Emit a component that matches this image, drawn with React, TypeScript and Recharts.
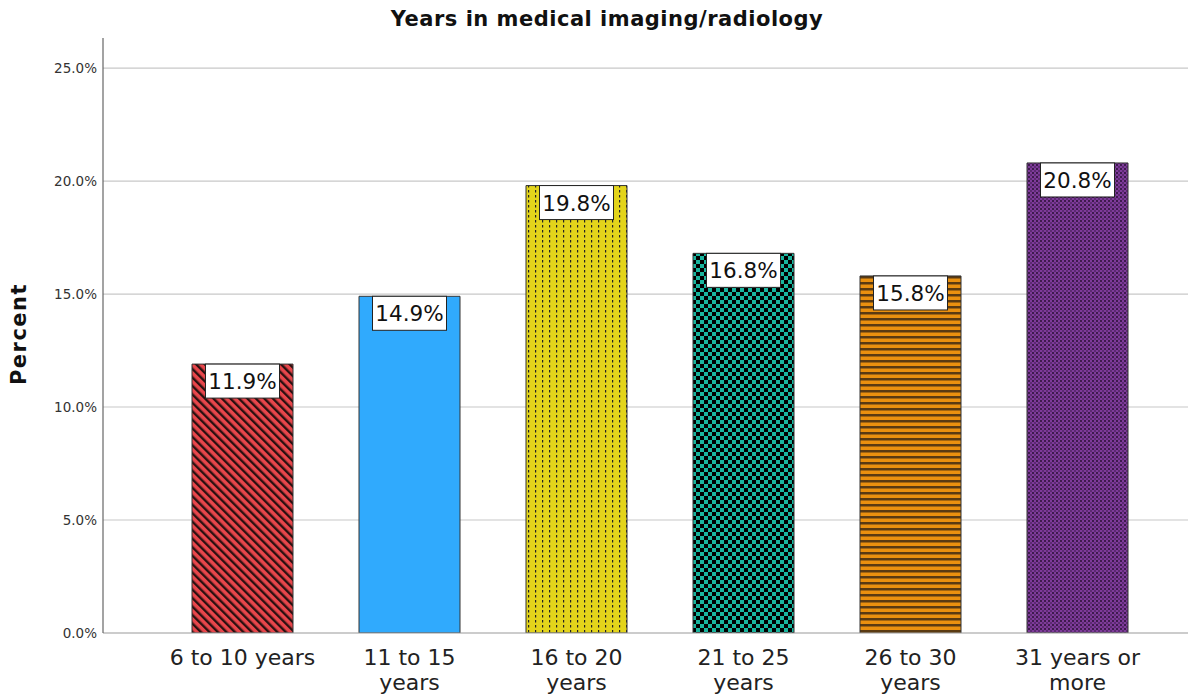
import React from "react";
import { BarChart, Bar, XAxis, YAxis, CartesianGrid, Cell, LabelList } from "recharts";

const categories = ["6 to 10 years", "11 to 15 years", "16 to 20 years", "21 to 25 years", "26 to 30 years", "31 years or more"];
const tickLines = [["6 to 10 years"], ["11 to 15", "years"], ["16 to 20", "years"], ["21 to 25", "years"], ["26 to 30", "years"], ["31 years or", "more"]];
const percents = [11.9, 14.9, 19.8, 16.8, 15.8, 20.8];
const yTicks = [0, 5, 10, 15, 20, 25];
const patternIds = ["pRed", "pBlue", "pYellow", "pTeal", "pOrange", "pPurple"];

const data = categories.map((c, i) => ({ name: c, value: percents[i] }));

const FONT = "'DejaVu Sans', sans-serif";

const XTick = (props: any) => {
  const { x, y, payload } = props;
  const idx = categories.indexOf(payload.value);
  const lines = idx >= 0 ? tickLines[idx] : [String(payload.value)];
  return (
    <g>
      {lines.map((l, k) => (
        <text key={k} x={x} y={y + 32 + k * 25} textAnchor="middle" fontSize={22} fill="#222" fontFamily={FONT}>
          {l}
        </text>
      ))}
    </g>
  );
};

const ValueLabel = (props: any) => {
  const { x, y, width, value } = props;
  const cx = x + width / 2;
  const w = 74;
  const h = 34;
  return (
    <g>
      <rect x={cx - w / 2} y={y} width={w} height={h} fill="#fff" stroke="#222" strokeWidth={1} />
      <text x={cx} y={y + h / 2 + 8} textAnchor="middle" fontSize={21.5} fill="#111" fontFamily={FONT}>
        {`${Number(value).toFixed(1)}%`}
      </text>
    </g>
  );
};

export default function App() {
  return (
    <div style={{ position: "absolute", left: 0, top: 0, width: 1188, height: 698, background: "#fff" }}>
      <div
        style={{
          position: "absolute",
          left: 0,
          top: 4,
          width: 1214,
          textAlign: "center",
          fontFamily: FONT,
          fontWeight: "bold",
          fontSize: 21,
          letterSpacing: 0.5,
          color: "#111",
          lineHeight: "30px",
        }}
      >
        Years in medical imaging/radiology
      </div>
      <div
        style={{
          position: "absolute",
          left: 19,
          top: 334,
          transform: "translate(-50%, -50%) rotate(-90deg)",
          fontFamily: FONT,
          fontWeight: "bold",
          fontSize: 21,
          letterSpacing: 1.5,
          color: "#111",
          whiteSpace: "nowrap",
        }}
      >
        Percent
      </div>
      <BarChart width={1188} height={698} data={data} margin={{ top: 38, right: 0, bottom: 5, left: 0 }}>
        <defs>
          <pattern id="pRed" width="6" height="6" patternUnits="userSpaceOnUse" patternTransform="rotate(-45)">
            <rect width="6" height="6" fill="#E8464B" />
            <rect x="0" y="0" width="2.4" height="6" fill="#2a1010" />
          </pattern>
          <pattern id="pBlue" width="6" height="6" patternUnits="userSpaceOnUse">
            <rect width="6" height="6" fill="#30AAFD" />
          </pattern>
          <pattern id="pYellow" width="7" height="5" patternUnits="userSpaceOnUse">
            <rect width="7" height="5" fill="#E3D41B" />
            <rect x="3" y="0" width="1.2" height="2.5" fill="#222" />
          </pattern>
          <pattern id="pTeal" width="8" height="8" patternUnits="userSpaceOnUse">
            <rect width="8" height="8" fill="#19B59E" />
            <rect x="0" y="0" width="4" height="4" fill="#000" />
            <rect x="4" y="4" width="4" height="4" fill="#000" />
          </pattern>
          <pattern id="pOrange" width="6" height="6" patternUnits="userSpaceOnUse">
            <rect width="6" height="6" fill="#EA900F" />
            <rect x="0" y="0" width="6" height="2.5" fill="#5a3a12" />
          </pattern>
          <pattern id="pPurple" width="4" height="4" patternUnits="userSpaceOnUse">
            <rect width="4" height="4" fill="#7E3B9A" />
            <rect x="0" y="0" width="2" height="2" fill="#3e1a4e" />
            <rect x="2" y="2" width="2" height="2" fill="#5c2a72" />
          </pattern>
        </defs>
        <CartesianGrid
          vertical={false}
          stroke="#c8c8c8"
          strokeWidth={1.2}
          horizontalValues={yTicks.slice(1)}
        />
        <XAxis
          dataKey="name"
          interval={0}
          height={60}
          tickSize={0}
          tickMargin={0}
          tick={<XTick />}
          axisLine={{ stroke: "#999" }}
          tickLine={false}
          padding={{ left: 56, right: 27 }}
        />
        <YAxis
          width={103}
          domain={[0, 26.33]}
          ticks={yTicks}
          allowDataOverflow
          tickFormatter={(v: number) => `${v.toFixed(1)}%`}
          tick={{ fontSize: 13.5, fill: "#333", fontFamily: FONT }}
          tickSize={0}
          tickMargin={6}
          tickLine={false}
          axisLine={{ stroke: "#666", strokeWidth: 1.2 }}
        />
        <Bar dataKey="value" barSize={101} stroke="#333" strokeWidth={1} isAnimationActive={false}>
          {data.map((_, i) => (
            <Cell key={i} fill={`url(#${patternIds[i]})`} />
          ))}
          <LabelList dataKey="value" content={<ValueLabel />} />
        </Bar>
      </BarChart>
    </div>
  );
}
